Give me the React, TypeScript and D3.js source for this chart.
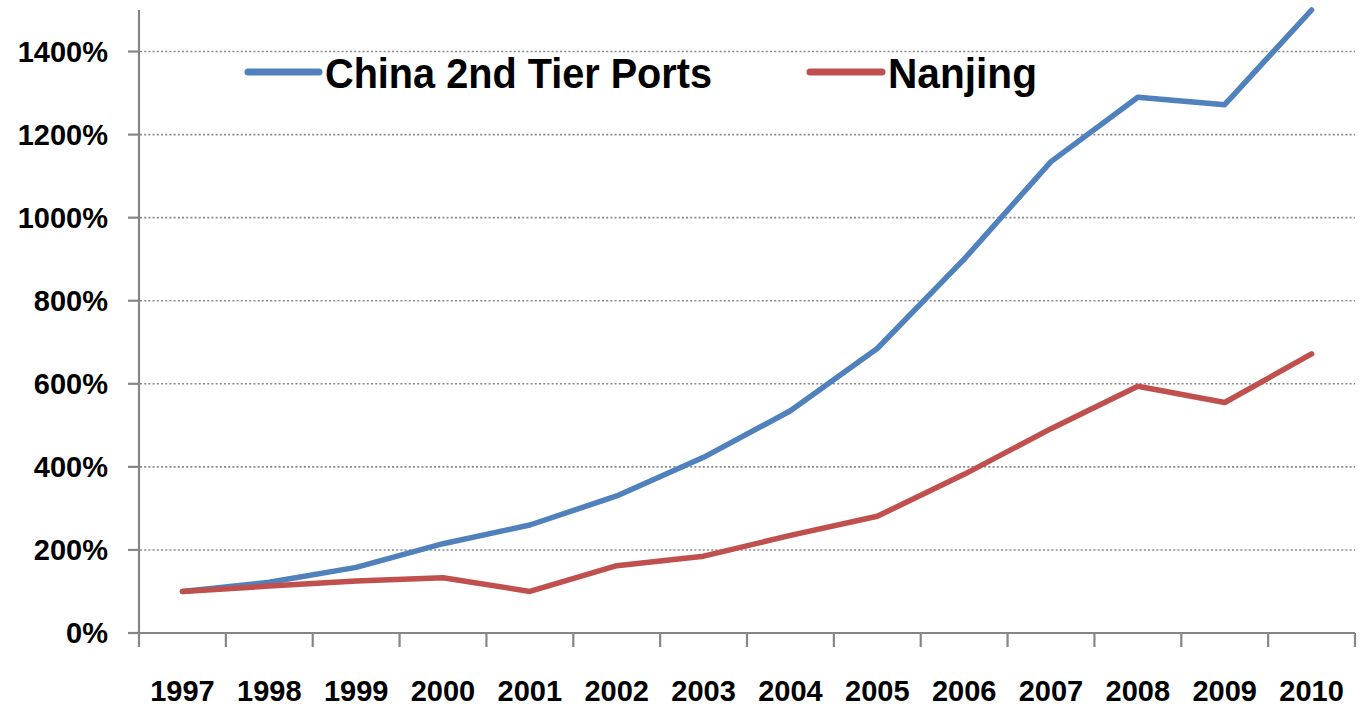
import React, { useEffect } from "react";
import * as d3 from "d3";

const years = ["1997","1998","1999","2000","2001","2002","2003","2004","2005","2006","2007","2008","2009","2010"];
const chinaPorts = [100,122,158,215,260,330,423,535,685,900,1135,1290,1272,1500];
const nanjing = [100,113,125,133,100,162,185,235,281,382,492,594,555,672];
const yTicks = [0,200,400,600,800,1000,1200,1400];
const seriesNames = ["China 2nd Tier Ports", "Nanjing"];
const seriesColors = ["#4F81BD", "#C0504D"];

const W = 1365, H = 707;
const left = 139, right = 1355, top = 10, bottom = 633;

export default function App() {
  useEffect(() => { document.body.style.margin = "0"; }, []);
  const x = d3.scaleBand<string>().domain(years).range([left, right]);
  const y = d3.scaleLinear().domain([0, 1500]).range([bottom, top]);
  const cx = (yr: string) => (x(yr) as number) + x.bandwidth() / 2;
  const line = d3.line<number>().x((_, i) => cx(years[i])).y((d) => y(d));
  const series = [chinaPorts, nanjing];
  const font = "'Liberation Sans', Arial, sans-serif";
  const boundaries = d3.range(years.length + 1).map((i) => left + i * x.bandwidth());
  const legend = [
    { lx1: 248, lx2: 319, tx: 325, tw: 387 },
    { lx1: 810, lx2: 882, tx: 888, tw: 149 },
  ];
  return (
    <svg width={W} height={H} style={{ display: "block", background: "#fff" }}>
      {yTicks.filter((t) => t > 0).map((t) => (
        <line key={"g" + t} x1={left + 1} x2={right} y1={y(t)} y2={y(t)} stroke="#8a8a8a" strokeWidth={1.6} strokeDasharray="2,2.2" />
      ))}
      <line x1={left} x2={left} y1={top} y2={bottom} stroke="#868686" strokeWidth={2.2} />
      <line x1={left} x2={right} y1={bottom} y2={bottom} stroke="#868686" strokeWidth={2.2} />
      {yTicks.map((t) => (
        <g key={"y" + t}>
          <line x1={left - 11} x2={left} y1={y(t)} y2={y(t)} stroke="#868686" strokeWidth={2.2} />
          <text x={108} y={y(t)} dy="0.36em" textAnchor="end" fontFamily={font} fontWeight="bold" fontSize={29} fill="#000">{t + "%"}</text>
        </g>
      ))}
      {boundaries.map((b, i) => (
        <line key={"xt" + i} x1={b} x2={b} y1={bottom} y2={bottom + 14} stroke="#868686" strokeWidth={2.2} />
      ))}
      {years.map((yr) => (
        <text key={"xl" + yr} x={cx(yr)} y={701} textAnchor="middle" fontFamily={font} fontWeight="bold" fontSize={29} fill="#000">{yr}</text>
      ))}
      {series.map((s, i) => (
        <path key={"s" + i} d={line(s) || ""} fill="none" stroke={seriesColors[i]} strokeWidth={5.5} strokeLinejoin="round" strokeLinecap="round" />
      ))}
      {legend.map((l, i) => (
        <g key={"l" + i}>
          <line x1={l.lx1} x2={l.lx2} y1={72} y2={72} stroke={seriesColors[i]} strokeWidth={7} strokeLinecap="round" />
          <text x={l.tx} y={87.5} fontFamily={font} fontWeight="bold" fontSize={43} fill="#000" textLength={l.tw} lengthAdjust="spacingAndGlyphs">{seriesNames[i]}</text>
        </g>
      ))}
    </svg>
  );
}
